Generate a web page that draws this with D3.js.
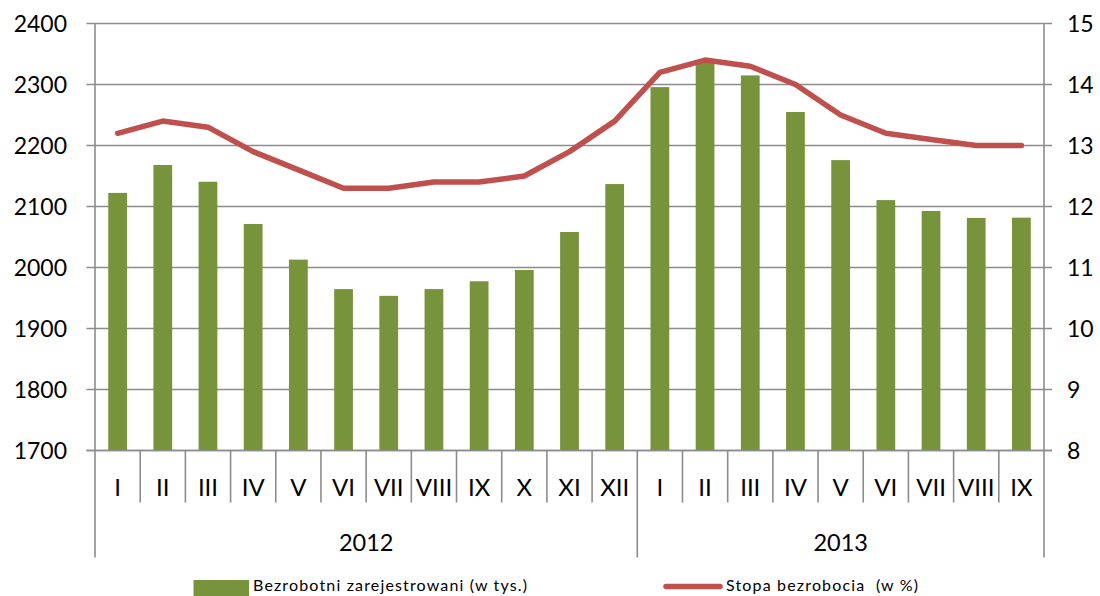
<!DOCTYPE html>
<html><head><meta charset="utf-8">
<script src="https://cdn.jsdelivr.net/npm/d3@7"></script>
<style>body{margin:0;background:#fff}svg{display:block}text{white-space:pre}</style>
</head><body>
<svg id="c" width="1100" height="596"></svg>
<script>
const months = ["I","II","III","IV","V","VI","VII","VIII","IX","X","XI","XII","I","II","III","IV","V","VI","VII","VIII","IX"];
const years = ["2012","2013"];
const yearOf = [0,0,0,0,0,0,0,0,0,0,0,0,1,1,1,1,1,1,1,1,1];
const registered = [2122.3,2168.0,2140.6,2071.3,2012.9,1964.6,1953.5,1964.6,1977.4,1995.9,2058.2,2136.8,2295.7,2336.7,2314.9,2254.9,2176.0,2110.5,2092.7,2081.3,2081.7];
const rate = [13.2,13.4,13.3,12.9,12.6,12.3,12.3,12.4,12.4,12.5,12.9,13.4,14.2,14.4,14.3,14.0,13.5,13.2,13.1,13.0,13.0];
const leftTicks = [1700,1800,1900,2000,2100,2200,2300,2400];
const rightTicks = [8,9,10,11,12,13,14,15];
const legendLabels = ["Bezrobotni zarejestrowani (w tys.)","Stopa bezrobocia  (w %)"];

const svg = d3.select("#c");
const FONT = "Lato, 'Open Sans', sans-serif";
const L = 95, R = 1044, T = 23.5, B = 450.5;
const grid = "#8c8c8c";

const x = d3.scaleBand().domain(d3.range(months.length)).range([L, R]).paddingInner(0.585).paddingOuter(0.2925);
const xStep = d3.scaleLinear().domain([0, months.length]).range([L, R]);
const yL = d3.scaleLinear().domain([1700, 2400]).range([B, T]);
const yR = d3.scaleLinear().domain([8, 15]).range([B, T]);

svg.append("g").selectAll("line").data(leftTicks).join("line")
  .attr("x1", 86.5).attr("x2", 1052).attr("y1", d => yL(d)).attr("y2", d => yL(d))
  .attr("stroke", grid).attr("stroke-width", 1.6);

svg.append("g").selectAll("rect").data(registered).join("rect")
  .attr("x", (d, i) => x(i)).attr("width", x.bandwidth())
  .attr("y", d => yL(d)).attr("height", d => B - yL(d))
  .attr("fill", "#77933C");

svg.append("line").attr("x1", L).attr("x2", L).attr("y1", T).attr("y2", 557.5).attr("stroke", grid).attr("stroke-width", 1.6);
svg.append("line").attr("x1", R).attr("x2", R).attr("y1", T).attr("y2", 557.5).attr("stroke", grid).attr("stroke-width", 1.6);
svg.append("line").attr("x1", 86.5).attr("x2", 1052).attr("y1", B).attr("y2", B).attr("stroke", grid).attr("stroke-width", 1.6);

const seps = d3.range(1, months.length);
svg.append("g").selectAll("line").data(seps).join("line")
  .attr("x1", d => xStep(d)).attr("x2", d => xStep(d))
  .attr("y1", B).attr("y2", d => (yearOf[d] !== yearOf[d-1]) ? 557.5 : 502.5)
  .attr("stroke", grid).attr("stroke-width", 1.6);

const line = d3.line().x((d, i) => x(i) + x.bandwidth() / 2).y(d => yR(d));
svg.append("path").datum(rate).attr("d", line)
  .attr("fill", "none").attr("stroke", "#C0504D").attr("stroke-width", 5.5)
  .attr("stroke-linejoin", "round").attr("stroke-linecap", "round");

svg.append("g").selectAll("text").data(leftTicks).join("text")
  .attr("x", 67).attr("y", d => yL(d)).attr("dy", "0.36em").attr("text-anchor", "end")
  .attr("font-family", FONT).attr("font-size", 23).attr("fill", "#000").text(d => d);
svg.append("g").selectAll("text").data(rightTicks).join("text")
  .attr("x", 1067).attr("y", d => yR(d)).attr("dy", "0.36em").attr("text-anchor", "start")
  .attr("font-family", FONT).attr("font-size", 23).attr("fill", "#000").text(d => d);

svg.append("g").selectAll("text").data(months).join("text")
  .attr("x", (d, i) => xStep(i + 0.5)).attr("y", 487).attr("dy", "0.36em").attr("text-anchor", "middle")
  .attr("font-family", FONT).attr("font-size", 24).attr("fill", "#000").text(d => d);

years.forEach((yr, k) => {
  const idx = d3.range(months.length).filter(i => yearOf[i] === k);
  const cx = (xStep(idx[0]) + xStep(idx[idx.length - 1] + 1)) / 2;
  svg.append("text").attr("x", cx).attr("y", 543).attr("dy", "0.36em").attr("text-anchor", "middle")
    .attr("font-family", FONT).attr("font-size", 23.5).attr("fill", "#000").text(yr);
});

svg.append("rect").attr("x", 193.5).attr("y", 580).attr("width", 55.5).attr("height", 16).attr("fill", "#77933C");
svg.append("text").attr("x", 253).attr("y", 585.5).attr("dy", "0.36em")
  .attr("font-family", FONT).attr("font-size", 16).attr("fill", "#000")
  .attr("textLength", 274).attr("lengthAdjust", "spacing").text(legendLabels[0]);
svg.append("line").attr("x1", 666).attr("x2", 720).attr("y1", 586.5).attr("y2", 586.5)
  .attr("stroke", "#C0504D").attr("stroke-width", 5.5).attr("stroke-linecap", "round");
svg.append("text").attr("x", 726).attr("y", 585.5).attr("dy", "0.36em")
  .attr("font-family", FONT).attr("font-size", 16).attr("fill", "#000")
  .attr("textLength", 192).attr("lengthAdjust", "spacing").text(legendLabels[1]);
</script>
</body></html>
